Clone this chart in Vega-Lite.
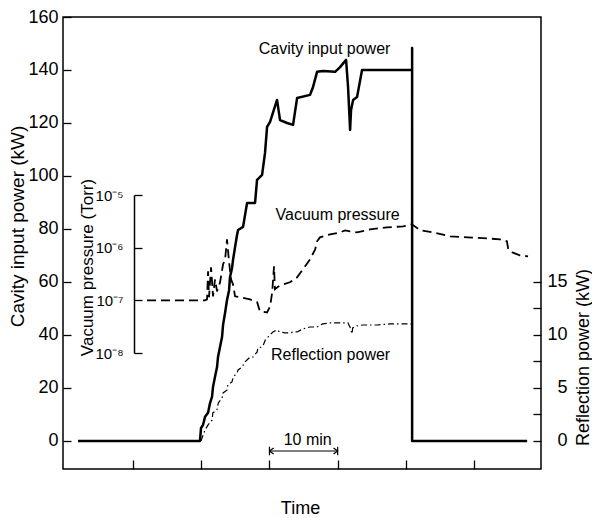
{
  "$schema": "https://vega.github.io/schema/vega-lite/v6.json",
  "autosize": {"type": "none"},
  "padding": {"left": 63, "top": 17, "right": 51, "bottom": 49},
  "width": 478,
  "height": 452,
  "background": "white",
  "config": {
    "view": {"stroke": "black", "strokeWidth": 1.5},
    "font": "Liberation Sans",
    "axis": {
      "labelColor": "black", "titleColor": "black", "tickColor": "black", "domainColor": "black",
      "grid": false, "labelFont": "Liberation Sans", "titleFont": "Liberation Sans",
      "titleFontWeight": "normal", "labelOverlap": false, "labelFlush": false, "tickWidth": 1.3
    }
  },
  "datasets": {
    "power": [
      {"i": 1, "t": 1.94, "P": 0}, {"i": 2, "t": 19.82, "P": 0}, {"i": 3, "t": 19.97, "P": 4.9},
      {"i": 4, "t": 20.26, "P": 6.0}, {"i": 5, "t": 20.56, "P": 9.1}, {"i": 6, "t": 21.0, "P": 10.6},
      {"i": 7, "t": 21.29, "P": 14.3}, {"i": 8, "t": 21.58, "P": 16.6}, {"i": 9, "t": 21.73, "P": 20.4},
      {"i": 10, "t": 22.02, "P": 24.2}, {"i": 11, "t": 22.32, "P": 27.9}, {"i": 12, "t": 22.46, "P": 31.7},
      {"i": 13, "t": 22.76, "P": 35.5}, {"i": 14, "t": 23.05, "P": 39.2}, {"i": 15, "t": 23.2, "P": 43.8},
      {"i": 16, "t": 23.49, "P": 48.3}, {"i": 17, "t": 23.78, "P": 53.2}, {"i": 18, "t": 24.08, "P": 56.9},
      {"i": 19, "t": 24.22, "P": 61.9}, {"i": 20, "t": 24.52, "P": 65.3}, {"i": 21, "t": 24.66, "P": 68.3},
      {"i": 22, "t": 24.96, "P": 73.2}, {"i": 23, "t": 25.25, "P": 77.7}, {"i": 24, "t": 25.4, "P": 79.6},
      {"i": 25, "t": 26.13, "P": 80.8}, {"i": 26, "t": 26.72, "P": 89.8}, {"i": 27, "t": 27.89, "P": 89.8},
      {"i": 28, "t": 28.18, "P": 98.5}, {"i": 29, "t": 28.92, "P": 100.4}, {"i": 30, "t": 29.35, "P": 108.7},
      {"i": 31, "t": 29.65, "P": 118.5}, {"i": 32, "t": 30.09, "P": 120.4}, {"i": 33, "t": 31.11, "P": 128.7},
      {"i": 34, "t": 31.55, "P": 121.1}, {"i": 35, "t": 32.58, "P": 120.0}, {"i": 36, "t": 33.46, "P": 119.3},
      {"i": 37, "t": 34.05, "P": 129.4}, {"i": 38, "t": 35.95, "P": 130.6}, {"i": 39, "t": 36.39, "P": 133.6},
      {"i": 40, "t": 36.98, "P": 139.3}, {"i": 41, "t": 37.86, "P": 139.6}, {"i": 42, "t": 39.62, "P": 139.3},
      {"i": 43, "t": 40.35, "P": 141.1}, {"i": 44, "t": 41.23, "P": 143.8}, {"i": 45, "t": 41.52, "P": 133.6},
      {"i": 46, "t": 41.82, "P": 117.4}, {"i": 47, "t": 41.96, "P": 124.9}, {"i": 48, "t": 42.26, "P": 128.7},
      {"i": 49, "t": 42.84, "P": 129.8}, {"i": 50, "t": 43.57, "P": 140.0}, {"i": 51, "t": 50.91, "P": 140.0},
      {"i": 52, "t": 50.91, "P": 148.3}, {"i": 53, "t": 50.91, "P": 0}, {"i": 54, "t": 67.77, "P": 0}
    ],
    "reflection": [
      {"t": 19.97, "R": 0}, {"t": 20.56, "R": 1.04}, {"t": 21.0, "R": 1.51}, {"t": 21.6, "R": 1.98},
      {"t": 21.7, "R": 2.64}, {"t": 22.3, "R": 2.92}, {"t": 22.5, "R": 3.58}, {"t": 23.05, "R": 4.06},
      {"t": 23.2, "R": 4.53}, {"t": 23.8, "R": 4.81}, {"t": 23.9, "R": 5.28}, {"t": 24.5, "R": 5.57},
      {"t": 24.7, "R": 6.04}, {"t": 25.25, "R": 6.42}, {"t": 25.4, "R": 6.70}, {"t": 26.0, "R": 6.98},
      {"t": 26.4, "R": 7.45}, {"t": 26.7, "R": 7.64}, {"t": 27.2, "R": 7.92}, {"t": 27.6, "R": 7.92},
      {"t": 28.2, "R": 8.40}, {"t": 28.3, "R": 8.77}, {"t": 28.9, "R": 8.87}, {"t": 29.1, "R": 9.06},
      {"t": 29.4, "R": 9.53}, {"t": 29.8, "R": 9.81}, {"t": 30.5, "R": 10.28}, {"t": 31.1, "R": 10.47},
      {"t": 31.5, "R": 10.28}, {"t": 32.3, "R": 10.19}, {"t": 33.0, "R": 10.19}, {"t": 33.5, "R": 10.28},
      {"t": 34.05, "R": 10.28}, {"t": 34.9, "R": 10.57}, {"t": 35.95, "R": 10.75}, {"t": 36.98, "R": 10.75},
      {"t": 37.8, "R": 11.04}, {"t": 38.9, "R": 11.13}, {"t": 40.8, "R": 11.13}, {"t": 41.5, "R": 11.13},
      {"t": 41.8, "R": 10.75}, {"t": 42.1, "R": 10.09}, {"t": 42.2, "R": 10.66}, {"t": 42.8, "R": 10.85},
      {"t": 43.7, "R": 10.94}, {"t": 45.8, "R": 10.94}, {"t": 47.7, "R": 11.04}, {"t": 50.9, "R": 11.04}
    ],
    "vacuum": [
      {"t": 12.05, "p": 1.0e-7}, {"t": 20.56, "p": 1.0e-7}, {"t": 20.85, "p": 1.04e-7}, {"t": 21.0, "p": 3.55e-7},
      {"t": 21.14, "p": 1.14e-7}, {"t": 21.44, "p": 4.23e-7}, {"t": 21.73, "p": 1.19e-7}, {"t": 22.02, "p": 2.5e-7},
      {"t": 22.32, "p": 1.48e-7}, {"t": 22.76, "p": 2.2e-7}, {"t": 23.2, "p": 4.82e-7}, {"t": 23.5, "p": 6.0e-7},
      {"t": 23.78, "p": 1.44e-6}, {"t": 24.07, "p": 5.5e-7}, {"t": 24.37, "p": 2.5e-7}, {"t": 24.66, "p": 2.01e-7},
      {"t": 24.96, "p": 1.19e-7}, {"t": 25.7, "p": 1.14e-7}, {"t": 27.15, "p": 1.04e-7}, {"t": 28.2, "p": 9.2e-8},
      {"t": 28.6, "p": 6.2e-8}, {"t": 29.65, "p": 5.9e-8}, {"t": 30.1, "p": 7.7e-8}, {"t": 30.4, "p": 1.42e-7},
      {"t": 30.67, "p": 4.42e-7}, {"t": 30.8, "p": 1.62e-7}, {"t": 31.55, "p": 1.93e-7}, {"t": 33.0, "p": 2.2e-7},
      {"t": 34.05, "p": 2.73e-7}, {"t": 34.9, "p": 3.87e-7}, {"t": 35.95, "p": 6.0e-7}, {"t": 36.7, "p": 9.3e-7},
      {"t": 36.98, "p": 1.32e-6}, {"t": 37.4, "p": 1.57e-6}, {"t": 38.9, "p": 1.79e-6}, {"t": 40.35, "p": 1.95e-6},
      {"t": 41.1, "p": 2.13e-6}, {"t": 41.8, "p": 2.04e-6}, {"t": 42.8, "p": 1.95e-6}, {"t": 44.75, "p": 2.22e-6},
      {"t": 47.2, "p": 2.43e-6}, {"t": 49.6, "p": 2.54e-6}, {"t": 50.9, "p": 2.77e-6}, {"t": 52.1, "p": 2.13e-6},
      {"t": 54.0, "p": 1.95e-6}, {"t": 56.5, "p": 1.64e-6}, {"t": 59.0, "p": 1.57e-6}, {"t": 61.9, "p": 1.5e-6},
      {"t": 63.8, "p": 1.44e-6}, {"t": 64.8, "p": 1.32e-6}, {"t": 65.0, "p": 9.3e-7}, {"t": 65.6, "p": 8.15e-7},
      {"t": 66.7, "p": 7.14e-7}, {"t": 67.9, "p": 6.84e-7}
    ],
    "notes": [
      {"t": 38.08, "P": 148.0, "label": "Cavity input power"},
      {"t": 39.99, "P": 85.3, "label": "Vacuum pressure"},
      {"t": 38.96, "P": 32.5, "label": "Reflection power"},
      {"t": 35.6, "P": 0.5, "label": "10 min"}
    ],
    "arrow": [{"t": 30, "t2": 40, "P": -3.8}]
  },
  "encoding": {
    "x": {
      "field": "t", "type": "quantitative",
      "scale": {"domain": [-0.26, 69.8], "nice": false, "zero": false},
      "axis": {
        "title": "Time", "values": [10, 20, 30, 40, 50, 60], "labels": false,
        "tickSize": -9, "domain": false, "titleFontSize": 18,
        "titleX": 237, "titleY": 39, "titleAlign": "center", "titleBaseline": "middle"
      }
    }
  },
  "layer": [
    {
      "data": {"name": "power"},
      "mark": {"type": "line", "color": "black", "strokeWidth": 2.5, "strokeJoin": "round"},
      "encoding": {
        "order": {"field": "i", "type": "quantitative"},
        "y": {
          "field": "P", "type": "quantitative",
          "scale": {"domain": [-10.6, 160], "nice": false, "zero": false},
          "axis": {
            "orient": "left", "title": "Cavity input power (kW)",
            "values": [0, 20, 40, 60, 80, 100, 120, 140, 160],
            "tickSize": -8, "labelPadding": 13, "domain": false, "labelFontSize": 18,
            "titleFontSize": 19, "titleAngle": 270, "titleX": -46, "titleY": 209,
            "titleAlign": "center", "titleBaseline": "middle"
          }
        }
      }
    },
    {
      "data": {"name": "reflection"},
      "mark": {"type": "line", "color": "black", "strokeWidth": 1.2, "strokeDash": [6, 3, 1.5, 3]},
      "encoding": {
        "y": {
          "field": "R", "type": "quantitative",
          "scale": {"domain": [-2.65, 40], "nice": false, "zero": false},
          "axis": {
            "orient": "right", "title": "Reflection power (kW)",
            "values": [0, 2.5, 5, 7.5, 10, 12.5, 15],
            "labelExpr": "datum.value % 5 === 0 ? datum.label : ''",
            "tickSize": -8, "labelPadding": 34, "labelAlign": "right", "domain": false,
            "labelFontSize": 18, "titleFontSize": 18, "titleAngle": 270,
            "titleX": 42, "titleY": 340, "titleAlign": "center", "titleBaseline": "middle"
          }
        }
      }
    },
    {
      "data": {"name": "vacuum"},
      "mark": {"type": "line", "color": "black", "strokeWidth": 1.8, "strokeDash": [9, 5]},
      "encoding": {
        "y": {
          "field": "p", "type": "quantitative",
          "scale": {"type": "log", "domain": [1e-8, 1e-5], "range": [336, 178]},
          "axis": {
            "orient": "left", "offset": -71, "title": "Vacuum pressure (Torr)",
            "values": [1e-8, 1e-7, 1e-6, 1e-5],
            "labelExpr": "'10' + (datum.value < 5e-8 ? '⁻⁸' : datum.value < 5e-7 ? '⁻⁷' : datum.value < 5e-6 ? '⁻⁶' : '⁻⁵')",
            "tickSize": -8, "labelPadding": 19, "domain": true, "domainWidth": 1.5,
            "labelFontSize": 15, "titleFontSize": 17, "titleAngle": 270,
            "titleX": -47, "titleY": 250, "titleAlign": "center", "titleBaseline": "middle"
          }
        }
      }
    },
    {
      "data": {"name": "notes"},
      "mark": {"type": "text", "color": "black", "fontSize": 16, "baseline": "middle", "align": "center", "font": "Liberation Sans"},
      "encoding": {
        "y": {"field": "P", "type": "quantitative", "scale": {"domain": [-10.6, 160], "nice": false, "zero": false}, "axis": null},
        "text": {"field": "label"}
      }
    },
    {
      "data": {"name": "arrow"},
      "mark": {"type": "rule", "color": "black", "strokeWidth": 1.2},
      "encoding": {
        "x2": {"field": "t2"},
        "y": {"field": "P", "type": "quantitative", "scale": {"domain": [-10.6, 160], "nice": false, "zero": false}, "axis": null}
      }
    },
    {
      "data": {"name": "arrow"},
      "mark": {"type": "point", "shape": "M0,-1L0,1M1,-0.7L0,0L1,0.7", "size": 70, "filled": false, "stroke": "black", "strokeWidth": 1.2, "opacity": 1},
      "encoding": {
        "y": {"field": "P", "type": "quantitative", "scale": {"domain": [-10.6, 160], "nice": false, "zero": false}, "axis": null}
      }
    },
    {
      "data": {"name": "arrow"},
      "mark": {"type": "point", "shape": "M0,-1L0,1M-1,-0.7L0,0L-1,0.7", "size": 70, "filled": false, "stroke": "black", "strokeWidth": 1.2, "opacity": 1},
      "encoding": {
        "x": {"field": "t2", "type": "quantitative"},
        "y": {"field": "P", "type": "quantitative", "scale": {"domain": [-10.6, 160], "nice": false, "zero": false}, "axis": null}
      }
    }
  ],
  "resolve": {"scale": {"y": "independent"}}
}
